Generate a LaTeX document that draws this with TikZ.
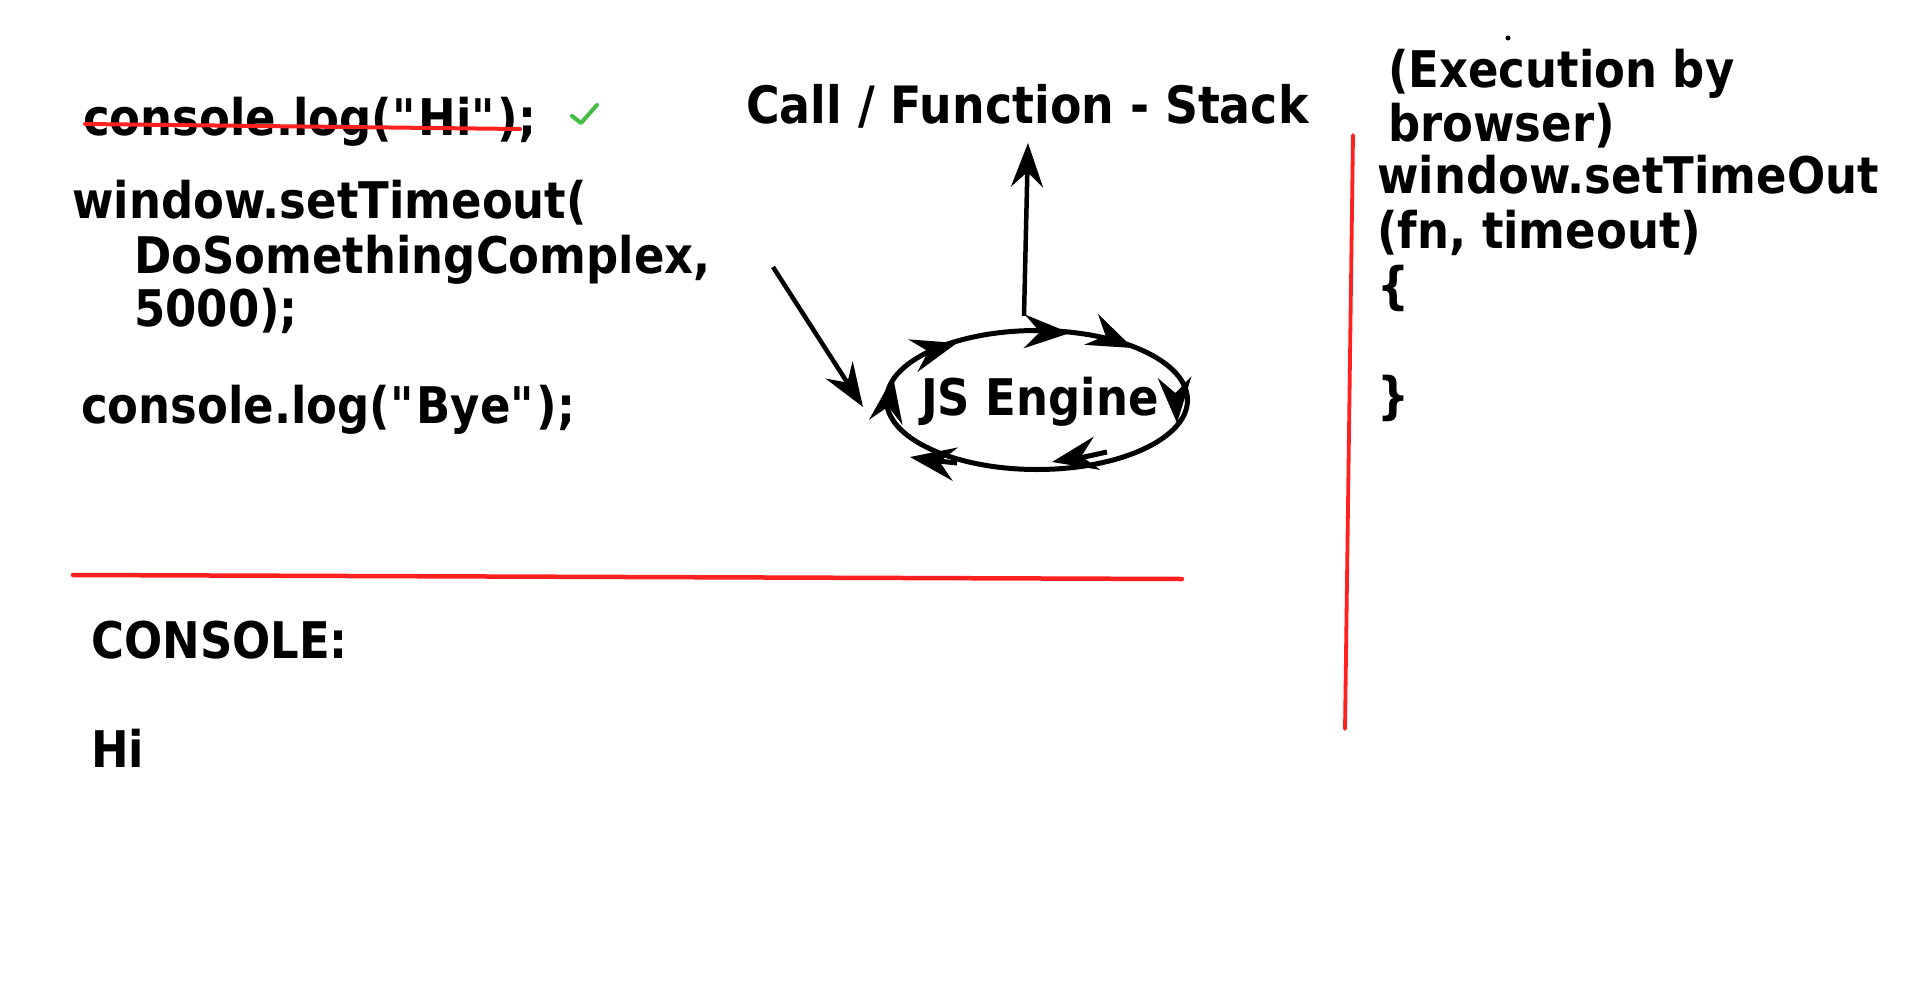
\documentclass[tikz,border=0pt]{standalone}
\usepackage{fontspec}
\setmainfont{DejaVu Sans}[FakeStretch=0.89]
\usetikzlibrary{arrows.meta,shapes.geometric}
\definecolor{redline}{HTML}{FF2020}
\definecolor{checkgreen}{HTML}{44BB44}
\newcommand\ahd[3]{\fill[shift={(#1,#2)},rotate=#3] (0,0) -- (-46,17) -- (-30,0) -- (-46,-17) -- cycle;}
\newcommand\qq{\textquotedbl}
\begin{document}
\begin{tikzpicture}[x=1pt,y=-1pt,
  txt/.style={anchor=base west,inner sep=0pt,font=\fontsize{50.5}{55}\selectfont\bfseries},
  conn/.style={line width=4.5pt,-{Stealth[length=44pt,width=32pt,inset=15pt]}},
  redrule/.style={draw=redline,line width=4.5pt,line cap=round},
  loopline/.style={line width=5pt}]
\fill[white] (0,0) rectangle (1920,991);
\useasboundingbox (0,0) rectangle (1920,991);

% left code
\node[txt] (hi) at (83,135) {console.log(\qq Hi\qq);};
\draw[redrule,line width=4pt] (85,124) -- (520,129);
\draw[checkgreen,line width=4pt,line cap=round,line join=round] (572,116) -- (581,123) -- (597,105);
\node[txt] (win1) at (72,218) {window.setTimeout(};
\node[txt] (win2) at (134,273) {DoSomethingComplex,};
\node[txt] (win3) at (134,326) {5000);};
\node[txt] (bye) at (81,423) {console.log(\qq Bye\qq);};

% title
\node[txt,font=\fontsize{51.5}{55}\selectfont\bfseries] (stack) at (746,123) {Call / Function - Stack};

% engine
\node[draw,ellipse,line width=5pt,minimum width=301pt,minimum height=139pt,inner sep=0pt] (eng) at (1037,400) {};
\node[inner sep=0pt,anchor=base,font=\fontsize{50.5}{55}\selectfont\bfseries] (engtxt) at (1040,415) {JS Engine};

\ahd{957}{343}{16}
\ahd{1070}{333}{-2}
\ahd{1133}{348}{-24}
\ahd{1177}{423}{-87}
\ahd{1052}{462}{-169}
\ahd{910}{457}{171}
\ahd{893}{377}{81}
\draw[loopline] (1107,452) -- (1075,459);
\draw[loopline] (957,463) -- (938,461);

% connectors
\coordinate (d0) at (773,267);
\coordinate (d1) at (863,407);
\draw[conn] (d0) -- (d1);
\coordinate (u0) at (1024,316);
\coordinate (u1) at (1028,143);
\draw[conn] (u0) -- (u1);

% separators
\coordinate (h0) at (73,575);
\coordinate (h1) at (1182,579);
\draw[redrule] (h0) -- (h1);
\coordinate (v0) at (1353,135);
\coordinate (v1) at (1345,729);
\draw[redrule,line width=3.8pt] (v0) -- (v1);

% console
\node[txt] (cons) at (91,658) {CONSOLE:};
\node[txt] (conshi) at (91,767) {Hi};

% right side
\fill (1508,38) circle (2.5);
\node[txt] (ex1) at (1388,87) {(Execution by};
\node[txt] (ex2) at (1388,141) {browser)};
\node[txt] (st1) at (1377,193) {window.setTimeOut};
\node[txt] (st2) at (1377,248) {(fn, timeout)};
\node[txt] (br1) at (1377,303) {\{};
\node[txt] (br2) at (1377,413) {\}};
\end{tikzpicture}
\end{document}
